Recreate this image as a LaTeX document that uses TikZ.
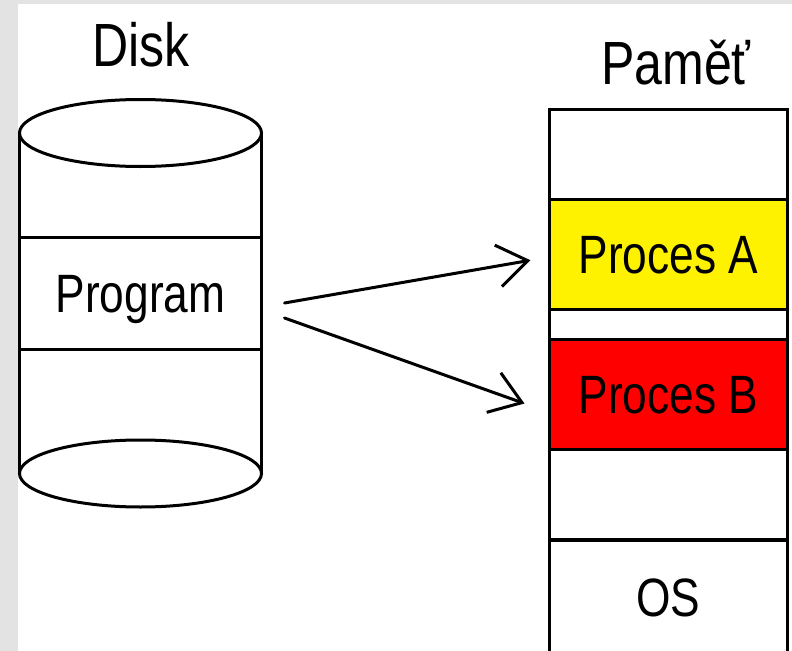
\documentclass[tikz,border=0pt]{standalone}
\usepackage{fontspec}
\setmainfont{Liberation Sans}[FakeStretch=0.82]
\usetikzlibrary{arrows.meta}

\tikzset{
  edge/.style={line width=0.075cm},
  box/.style={edge,draw,rectangle,inner sep=0pt,text depth=0pt,
    font=\fontsize{38.4}{40}\selectfont},
  membox/.style={box,minimum width=5.925cm},
  title/.style={anchor=base,inner sep=0pt,font=\fontsize{43.4}{46}\selectfont},
  link/.style={edge,line cap=round,-{Straight Barb[length=0.75cm,width=1.05cm]}}
}

\begin{document}
\begin{tikzpicture}[x=0.025cm,y=-0.025cm]
  \useasboundingbox (0,0) rectangle (792,651);

  % Sheet with a grey margin on the left and top.
  \fill[gray!22] (0,0) rectangle (792,651);
  \fill[white] (18,4) rectangle (792,651);

  % Disk drawn as a cylinder.
  \draw[edge] (19.5,133) -- (19.5,473.5);
  \draw[edge] (261.5,133) -- (261.5,473.5);
  \draw[edge] (140.5,133) ellipse [x radius=121, y radius=33.5];
  \draw[edge] (140.5,473.5) ellipse [x radius=121, y radius=33.5];
  \node[box,fill=white,minimum width=6.025cm,minimum height=2.775cm] (prog) at (140.5,293.5) {Program};
  \node[title] (disk) at (141,66) {Disk};

  % Memory column, top to bottom.
  \node[membox,minimum height=2.25cm] (memTop) at (668.5,155) {};
  \node[membox,fill=yellow,minimum height=2.7375cm] (procA) at (668.5,254.75) {Proces A};
  \node[membox,minimum height=0.75cm] (memGap) at (668.5,324.5) {};
  \node[membox,fill=red,minimum height=2.75cm] (procB) at (668.5,394.5) {Proces B};
  \node[membox,minimum height=2.2625cm] (memFree) at (668.5,494.75) {};
  \node[membox,minimum height=2.9cm] (os) at (668.5,598) {OS};
  \node[title] (mem) at (676,85) {Paměť};

  % Program loaded twice.
  \draw[link] ([shift={(22,9.5)}]prog.east) -- ([shift={(-18,5.5)}]procA.west);
  \draw[link] ([shift={(22,24.5)}]prog.east) -- ([shift={(-24,9)}]procB.west);
\end{tikzpicture}
\end{document}
